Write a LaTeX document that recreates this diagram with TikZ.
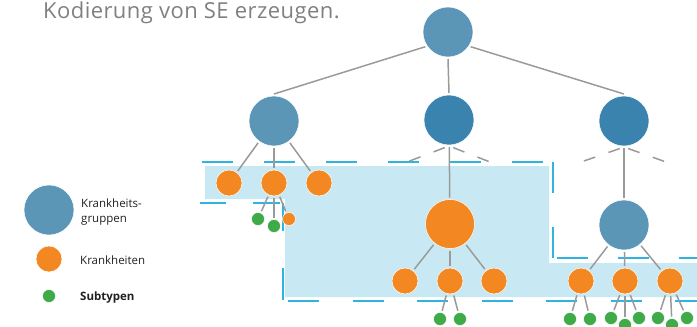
\documentclass[tikz,border=0pt]{standalone}
\usepackage{fontspec}
\setmainfont{Open Sans}
\definecolor{lblue}{HTML}{5B96B6}
\definecolor{dblue}{HTML}{3B83AF}
\definecolor{corange}{HTML}{F38722}
\definecolor{cgreen}{HTML}{3FAA48}
\definecolor{regionc}{HTML}{C8E9F3}
\definecolor{cyanl}{HTML}{2DB4E0}
\definecolor{cgray}{HTML}{9A9A9A}
\definecolor{titleg}{HTML}{808080}
\definecolor{legtext}{HTML}{231F20}
\begin{document}
\begin{tikzpicture}[x=1pt,y=-1pt,
  blob/.style={circle, inner sep=0pt, outer sep=2pt, draw=white, line width=0.5pt},
  grp/.style={blob, fill=lblue, minimum size=50pt},
  grpd/.style={grp, fill=dblue},
  kh/.style={blob, fill=corange, minimum size=26pt},
  khs/.style={blob, fill=corange, minimum size=13pt},
  sub/.style={blob, fill=cgreen, minimum size=13pt},
  edge/.style={draw=cgray, line width=1.5pt},
  gdash/.style={edge, dash pattern=on 12pt off 14pt, shorten <=2pt},
  bdash/.style={draw=cyanl, line width=1.5pt},
  legtxt/.style={anchor=base west, inner sep=0pt, text=legtext, font=\fontsize{11.5}{14}\selectfont}
]
\useasboundingbox (0,0) rectangle (697,327);

% shaded region
\fill[regionc] (205,166) -- (549,166) -- (549,263) -- (697,263) -- (697,297)
  -- (285,297) -- (285,199) -- (205,199) -- cycle;

% dashed outline
\draw[bdash, dash pattern=on 31pt off 31pt] (202,162) -- (553,162);
\draw[bdash, dash pattern=on 31pt off 34pt] (553,162) -- (553,258);
\draw[bdash, dash pattern=on 31pt off 30pt] (557,258) -- (697,258);
\draw[bdash, dash pattern=on 31pt off 33.5pt] (288,301) -- (697,301);
\draw[bdash] (200,203) -- (226,203) (253,203) -- (280,203);
\draw[bdash] (283,203) -- (283,231) (283,268) -- (283,300);

% title
\node[anchor=base west, inner sep=0pt, text=titleg, font=\fontsize{22}{25}\selectfont\addfontfeatures{LetterSpace=2}] (title) at (43,18) {Kodierung von SE erzeugen.};

% tree nodes
\node[grp] (root) at (448,32) {};
\node[grp] (ga) at (274,121) {};
\node[grpd] (gb) at (449,120) {};
\node[grpd] (gc) at (624,121) {};

\node[kh] (a1) at (229,183) {};
\node[kh] (a2) at (274,183) {};
\node[kh] (a3) at (319,183) {};
\node[sub] (a2s1) at (258,219) {};
\node[sub] (a2s2) at (274,226) {};
\node[khs] (a2s3) at (289,219) {};

\node[blob, fill=corange, minimum size=49pt] (b) at (450,224) {};
\node[kh] (b1) at (405,281) {};
\node[kh] (b2) at (450,281) {};
\node[kh] (b3) at (494,281) {};
\node[sub] (b2s1) at (440,319) {};
\node[sub] (b2s2) at (460,319) {};

\node[grp] (c) at (624,225) {};
\node[kh] (c1) at (581,281) {};
\node[kh] (c2) at (625,281) {};
\node[kh] (c3) at (670,281) {};
\node[sub] (c1s1) at (570,319) {};
\node[sub] (c1s2) at (590,319) {};
\node[sub] (c2s1) at (611,318) {};
\node[sub] (c2s2) at (625,325) {};
\node[sub] (c2s3) at (639,318) {};
\node[sub] (c3s1) at (658,318) {};
\node[sub] (c3s2) at (672,325) {};
\node[sub] (c3s3) at (687,318) {};

% free ends of the dashed grey connectors
\coordinate (db1) at (407,162);
\coordinate (db2) at (490,162);
\coordinate (dc1) at (581,162);
\coordinate (dc2) at (666,162);

% connectors
\draw[edge] (root.213) -- (ga.north);
\draw[edge] (root.south) -- (gb.north);
\draw[edge] (root.327) -- (gc.north);
\draw[edge] (ga) -- (a1);
\draw[edge] (ga) -- (a2);
\draw[edge] (ga) -- (a3);
\draw[edge] (a2) -- (a2s1);
\draw[edge] (a2) -- (a2s2);
\draw[edge] (a2) -- (a2s3);
\draw[edge] (gb) -- (b);
\draw[gdash] (gb.265) -- (db1);
\draw[gdash] (gb.275) -- (db2);
\draw[edge] (b) -- (b1);
\draw[edge] (b) -- (b2);
\draw[edge] (b) -- (b3);
\draw[edge] (b2) -- (b2s1);
\draw[edge] (b2) -- (b2s2);
\draw[edge] (gc) -- (c);
\draw[gdash] (gc.265) -- (dc1);
\draw[gdash] (gc.275) -- (dc2);
\draw[edge] (c) -- (c1);
\draw[edge] (c) -- (c2);
\draw[edge] (c) -- (c3);
\draw[edge] (c1) -- (c1s1);
\draw[edge] (c1) -- (c1s2);
\draw[edge] (c2) -- (c2s1);
\draw[edge] (c2) -- (c2s2);
\draw[edge] (c2) -- (c2s3);
\draw[edge] (c3) -- (c3s1);
\draw[edge] (c3) -- (c3s2);
\draw[edge] (c3) -- (c3s3);

% legend
\node[grp] (lg1) at (49,210) {};
\node[kh] (lg2) at (49,259) {};
\node[sub] (lg3) at (49,296) {};
\node[legtxt] (lt1a) at (81,207) {Krankheits-};
\node[legtxt] (lt1b) at (81,222) {gruppen};
\node[legtxt] (lt2) at (80,264) {Krankheiten};
\node[legtxt, font=\fontsize{11.5}{14}\selectfont\bfseries] (lt3) at (80,300.5) {Subtypen};
\end{tikzpicture}
\end{document}
